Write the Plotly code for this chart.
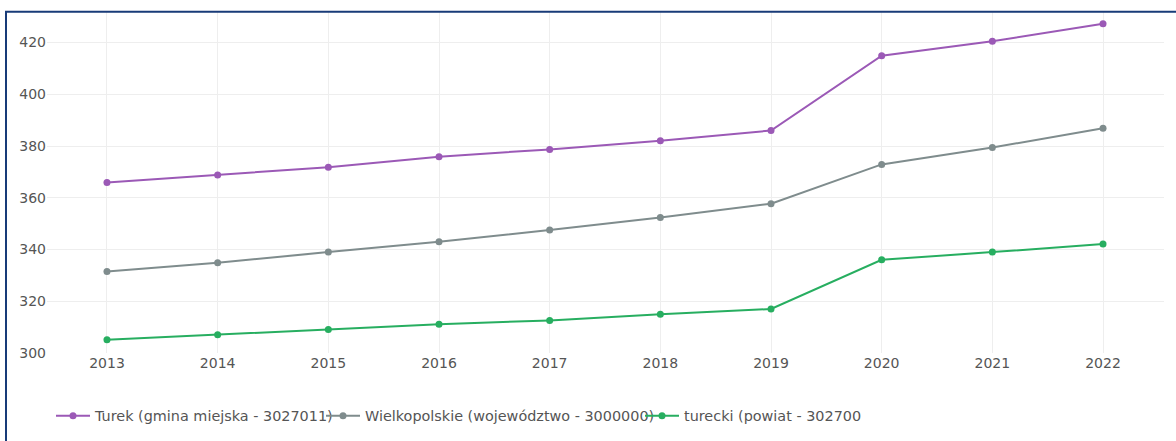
import plotly.graph_objects as go

years = [2013, 2014, 2015, 2016, 2017, 2018, 2019, 2020, 2021, 2022]
turek = [365.9, 368.8, 371.8, 375.9, 378.7, 382.0, 386.0, 414.9, 420.5, 427.3]
wielkopolskie = [331.5, 334.9, 339.0, 343.0, 347.5, 352.4, 357.7, 372.9, 379.4, 386.9]
turecki = [305.1, 307.1, 309.1, 311.1, 312.6, 315.0, 317.0, 336.0, 339.0, 342.1]

names = ["Turek (gmina miejska - 3027011)",
         "Wielkopolskie (województwo - 3000000)",
         "turecki (powiat - 302700"]
colors = ["#9b59b6", "#7f8c8d", "#27ae60"]
series = [turek, wielkopolskie, turecki]

W, H = 1176, 441
ML, MR, MT, MB = 47, 12, 12, 88

fig = go.Figure()
legend_ids = ["legend", "legend2", "legend3"]
for name, vals, col, lg in zip(names, series, colors, legend_ids):
    fig.add_trace(go.Scatter(
        x=years, y=vals, name=name, mode="lines+markers",
        line=dict(color=col, width=2), marker=dict(color=col, size=7),
        legend=lg,
    ))

font = dict(family="Verdana, DejaVu Sans, sans-serif", size=14, color="#555555")
legfont = dict(family="Verdana, DejaVu Sans, sans-serif", size=14.4, color="#555555")
leg_x_px = [51, 321, 640]
leg_y = 1 - 416 / H
legs = {}
for lg, xp in zip(legend_ids, leg_x_px):
    legs[lg] = dict(x=xp / W, y=leg_y, xref="container", yref="container",
                    xanchor="left", yanchor="middle", orientation="h",
                    font=legfont, bgcolor="rgba(0,0,0,0)", borderwidth=0,
                    itemwidth=34)

pw = W - ML - MR
ph = H - MT - MB
fig.update_layout(
    width=W, height=H,
    margin=dict(l=ML, r=MR, t=MT, b=MB, pad=0),
    paper_bgcolor="white", plot_bgcolor="white",
    font=font,
    showlegend=True,
    xaxis=dict(range=[2012.458, 2022.551], tickmode="array", tickvals=years,
               ticktext=[str(y) for y in years], showgrid=True, gridcolor="#eeeeee",
               gridwidth=1, zeroline=False, showline=False, ticks="", tickfont=font),
    yaxis=dict(range=[300, 431.8], tickmode="array", tickvals=[300, 320, 340, 360, 380, 400, 420],
               showgrid=True, gridcolor="#eeeeee", gridwidth=1, zeroline=False,
               showline=False, ticks="", tickfont=font),
    shapes=[dict(type="rect", xref="paper", yref="paper",
                 x0=(6 - ML) / pw, x1=(W + 20 - ML) / pw,
                 y0=(H - MB - (H + 20)) / ph, y1=(H - MB - 11.8) / ph,
                 line=dict(color="#183b78", width=2), fillcolor="rgba(0,0,0,0)",
                 layer="above")],
    **legs,
)

fig.write_html("out.html", config={"displayModeBar": False},
               post_script="document.body.style.margin='0';")
